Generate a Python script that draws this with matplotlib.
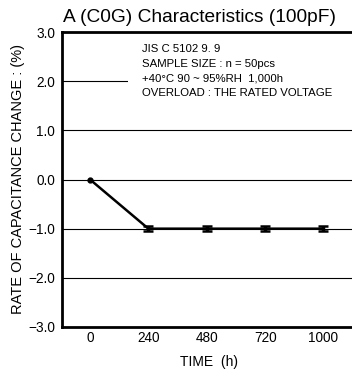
import matplotlib.pyplot as plt
from matplotlib.patches import Rectangle
import numpy as np

plt.rcParams['font.family'] = ['Liberation Sans', 'DejaVu Sans']

times = ["0", "240", "480", "720", "1000"]
change = [0.0, -1.0, -1.0, -1.0, -1.0]
err = [0.0, 0.05, 0.05, 0.05, 0.05]
yticks = [3.0, 2.0, 1.0, 0.0, -1.0, -2.0, -3.0]

fig = plt.figure(figsize=(3.52, 3.76), dpi=100)
ax = fig.add_axes([62/352, 1 - 327/376, 1 - 62/352 + 0.01, 295/376])

x = np.arange(len(times))
for yv in yticks[1:-1]:
    ax.axhline(yv, color='black', lw=0.8, zorder=1)

ax.plot(x, change, color='black', lw=1.8, zorder=3)
ax.errorbar(x[1:], change[1:], yerr=err[1:], fmt='none', ecolor='black',
            elinewidth=2.5, capsize=3.5, capthick=1.8, zorder=4)
ax.plot(x[0], change[0], 'o', color='black', ms=3.5, zorder=4)

ax.set_xlim(-0.48, 4.55)
ax.set_ylim(-3.0, 3.0)
ax.set_xticks(x)
ax.set_xticklabels(times)
ax.set_yticks(yticks)
ax.set_yticklabels([f"{v:.1f}".replace('-', '\u2212') for v in yticks])
ax.tick_params(length=0, labelsize=9.8, pad=5)
ax.tick_params(axis='x', pad=3)
for s in ['left', 'bottom', 'top']:
    ax.spines[s].set_linewidth(2)
ax.spines['right'].set_visible(False)

ax.set_title("A (C0G) Characteristics (100pF)", fontsize=13.8, pad=7, x=0.47)
ax.set_xlabel("TIME  (h)", fontsize=10, labelpad=7)
ax.set_ylabel("RATE OF CAPACITANCE CHANGE : (%)", fontsize=10.5)
ax.yaxis.set_label_coords(-0.125, 0.5)

# white panel behind the test conditions, hides the 2.0 grid line
ax.add_patch(Rectangle((0.65, 1.5), 4.0, 1.45, facecolor='white',
                       edgecolor='none', zorder=2))
note = ("JIS C 5102 9. 9\nSAMPLE SIZE : n = 50pcs\n"
        "+40\u00b0C 90 ~ 95%RH  1,000h\nOVERLOAD : THE RATED VOLTAGE")
ax.text(0.89, 2.76, note, fontsize=8.2, va='top', ha='left', linespacing=1.6,
        family=['Liberation Sans Narrow', 'Liberation Sans'], zorder=5)

fig.savefig("out.png", dpi=100)
